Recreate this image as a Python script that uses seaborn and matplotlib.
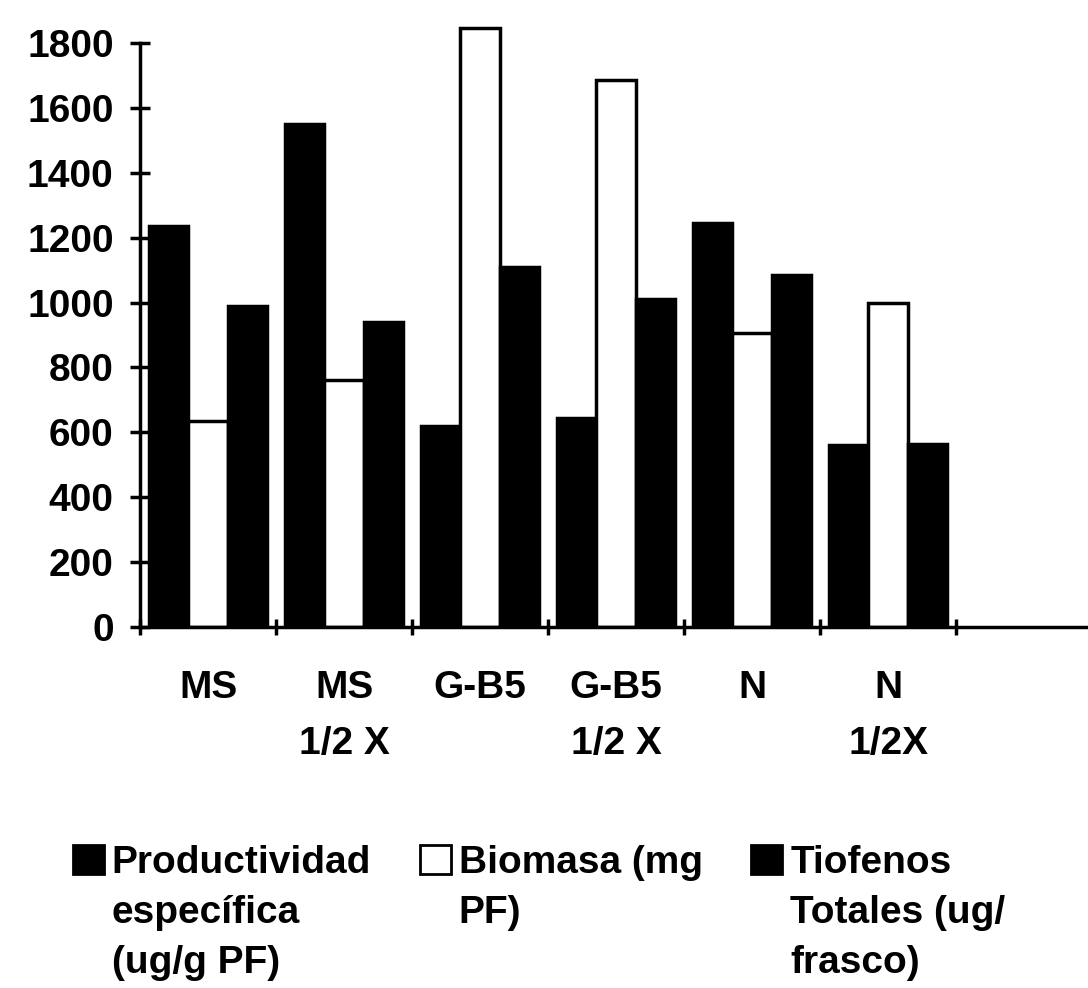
import matplotlib
matplotlib.use("Agg")
import matplotlib.pyplot as plt
import seaborn as sns
import pandas as pd

medios = ["MS", "MS\n1/2 X", "G-B5", "G-B5\n1/2 X", "N", "N\n1/2X"]
productividad = [1235, 1550, 620, 645, 1245, 560]
biomasa = [635, 760, 1845, 1685, 905, 1000]
tiofenos = [990, 940, 1110, 1010, 1085, 565]

series = ["Productividad\nespecífica\n(ug/g PF)",
          "Biomasa (mg\nPF)",
          "Tiofenos\nTotales (ug/\nfrasco)"]

data = pd.DataFrame({
    "medio": medios * 3,
    "serie": [series[0]] * 6 + [series[1]] * 6 + [series[2]] * 6,
    "valor": productividad + biomasa + tiofenos,
})

sns.set_style("white")
plt.rcParams["font.family"] = ["Liberation Sans", "DejaVu Sans"]
plt.rcParams["font.weight"] = "bold"
plt.rcParams["text.color"] = "black"
plt.rcParams["xtick.color"] = "black"
plt.rcParams["ytick.color"] = "black"
plt.rcParams["axes.edgecolor"] = "black"
fs = 28

fig = plt.figure(figsize=(10.88, 9.88), dpi=100)
ax = fig.add_axes([0.1287, 0.3654, 0.875, 0.614])

sns.barplot(data=data, x="medio", y="valor", hue="serie", order=medios,
            hue_order=series, palette=["black", "white", "black"],
            width=0.87, edgecolor="black", linewidth=2.5, ax=ax)

ax.set_xlim(-0.5, 6.5)
ax.set_ylim(0, 1870)
ax.set_yticks(range(0, 1801, 200))
ax.set_xlabel("")
ax.set_ylabel("")
sns.despine(ax=ax)
ax.spines["left"].set_bounds(0, 1800)
ax.spines["left"].set_linewidth(2.5)
ax.spines["bottom"].set_linewidth(2.5)

ax.tick_params(axis="y", direction="inout", length=14, width=2.5,
               labelsize=fs, pad=12, left=True)
ax.set_xticks(range(len(medios)))
ax.set_xticklabels(medios, linespacing=1.7)
ax.tick_params(axis="x", which="major", length=0, labelsize=fs, pad=31)
ax.set_xticks([i - 0.5 for i in range(len(medios) + 1)], minor=True)
ax.tick_params(axis="x", which="minor", direction="inout", length=12,
               width=2.5, bottom=True)

ax.get_legend().remove()
handles, labels = ax.get_legend_handles_labels()
leg = fig.legend(handles, labels, loc="upper left",
                 bbox_to_anchor=(0.067, 0.145), ncol=3, frameon=False,
                 fontsize=fs, handlelength=0.8, handleheight=0.8,
                 handletextpad=0.2, columnspacing=1.25, borderpad=0,
                 borderaxespad=0)
for t in leg.get_texts():
    t.set_linespacing(1.5)
for h in leg.legend_handles:
    h.set_edgecolor("black")
    h.set_linewidth(2)
leg._legend_handle_box.align = "top"
for col in leg._legend_handle_box.get_children():
    for entry in col.get_children():
        entry.align = "top"

fig.savefig("out.png", dpi=100)
